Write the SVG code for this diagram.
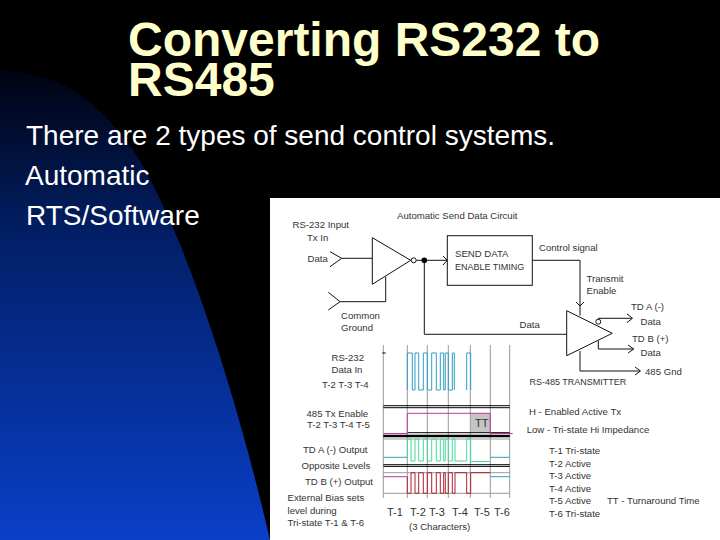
<svg xmlns="http://www.w3.org/2000/svg" width="720" height="540" viewBox="0 0 720 540">
<style>
text{font-family:"Liberation Sans",Arial,sans-serif}
.title{font-size:48px;font-weight:700;fill:#ffffcc}
.body{font-size:28px;fill:#fff}
.s{font-size:9.6px;fill:#333}
.n{font-size:9px;fill:#333}
.m{font-size:11px;fill:#333}
.w{fill:none;stroke:#111;stroke-width:1}
.grid{stroke:#999;stroke-width:1;fill:none}
.bar{stroke:#000;fill:none}
.sig{fill:none;stroke-width:1}
</style>
<defs>
<linearGradient id="bg" gradientUnits="userSpaceOnUse" x1="0" y1="70" x2="0" y2="540">
<stop offset="0" stop-color="#000310"/>
<stop offset="0.35" stop-color="#021f66"/>
<stop offset="1" stop-color="#0a3fc8"/>
</linearGradient>
</defs>
<rect width="720" height="540" fill="#000"/>
<path d="M0 70C35 72 60 80 83 97C105 113 120 133 133 150C150 175 165 210 177 237C205 305 240 410 270 540H0Z" fill="url(#bg)"/>
<g id="heading">
<text class="title" x="128" y="56">Converting RS232 to</text>
<text class="title" x="128" y="96">RS485</text>
<text class="body" x="26" y="145">There are 2 types of send control systems.</text>
<text class="body" x="25" y="185">Automatic</text>
<text class="body" x="26" y="225">RTS/Software</text>
</g>
<rect id="panel" x="270" y="198" width="450" height="342" fill="#fff"/>
<g id="connectors">
<path class="w" d="M330 251.7L341.7 258.3L330 266.7M341.7 258.3H372.3"/>
<path class="w" d="M328.3 292.3L340 301.7L328.3 310M340 301.7H385.7V276.7"/>
<path class="w" d="M416.2 260.3H447.3M443 256L447.3 260.3L443 265"/>
<path class="w" d="M532.3 260.3H580V315.7M576 302L580 306L584 302"/>
<path class="w" d="M424.3 260.3V334.3H566.7"/>
<path class="w" d="M598.3 319V318.3H631.7M627 314L632.5 318.3L627 322.5"/>
<path class="w" d="M598.3 340.7V349H633.3M628 345L633.8 349L628 353"/>
<path class="w" d="M580 351V371H640M635 367L640.5 371L635 375"/>
</g>
<g id="buffer"><path d="M372.3 237.7L410.7 260.3L372.3 284.3Z" fill="#fff" stroke="#111"/><circle cx="413.7" cy="260.3" r="2.5" fill="#fff" stroke="#111"/><circle cx="424.3" cy="260.3" r="2.8" fill="#000"/></g>
<g id="timing"><rect x="447.3" y="235.7" width="85" height="49.6" fill="#fff" stroke="#111"/><text class="s" x="455" y="256.7">SEND DATA</text><text class="n" x="455" y="270">ENABLE TIMING</text></g>
<g id="transmitter"><path d="M566.7 310.7L612.3 333.3L566.7 355.7Z" fill="#fff" stroke="#111"/><circle cx="598.3" cy="321.7" r="2.5" fill="#fff" stroke="#111"/></g>
<g id="circuit-labels">
<text class="s" x="397" y="218.5">Automatic Send Data Circuit</text>
<text class="s" x="292.5" y="228">RS-232 Input</text>
<text class="s" x="307" y="241">Tx In</text>
<text class="s" x="307.5" y="261.7">Data</text>
<text class="s" x="539" y="250.6">Control signal</text>
<text class="s" x="586.5" y="281.7">Transmit</text>
<text class="s" x="586.5" y="294">Enable</text>
<text class="s" x="631" y="310">TD A (-)</text>
<text class="s" x="640.5" y="325">Data</text>
<text class="s" x="632" y="341.7">TD B (+)</text>
<text class="s" x="640.5" y="356">Data</text>
<text class="s" x="645" y="375">485 Gnd</text>
<text class="s" x="341" y="319">Common</text>
<text class="s" x="341" y="331">Ground</text>
<text class="s" x="519.5" y="328.3">Data</text>
<text class="n" x="529.5" y="385">RS-485 TRANSMITTER</text>
</g>
<g id="timing-diagram">
<rect x="470.3" y="413.3" width="20" height="19.4" fill="#c4c4c4"/>
<path class="grid" d="M383.3 345V498M407.3 345V498M427.3 345V498M448.3 345V498M470.3 345V498M490.3 345V498M509.7 345V498M383.3 439H509.7M383.3 472.7H509.7M383.3 493.3H509.7"/>
<path class="bar" d="M383.3 405.7H509.7M383.3 407.7H509.7M407.3 432.7H509.7M383.3 464.7H509.7M383.3 466.4H509.7"/>
<path class="bar" stroke-width="2.4" d="M383.3 436H509.7"/>
<path class="sig" stroke="#000" d="M382.3 353H385.7"/>
<path class="sig" stroke="#2f9fc4" d="M407.3 390V353H412.3V390H415V353H418.7V390H423.3V353H427.3V390H431.7V353H436.3V390H440.3V353H443.7V390H445.3V353H448.3V390H452.3V353H454.3V390M466.7 390V353H470.7V390"/>
<path class="sig" stroke="#c0369a" d="M383.3 433.5H407.3V413.3H490.3V433.5H512.7"/>
<path class="sig" stroke="#2f9fc4" d="M383.3 457.3H407.3M490.3 457.3H509.7M490.3 476.7H509.7"/>
<path class="sig" stroke="#45dc9c" d="M407.3 457.3V439H411V461H415V439H418.7V461H423.3V439H427.3V461H431.7V439H436.3V461H440.3V439H443.7V461H445.3V439H448.3V461H452.3V439H455V461H466.7V439H470.7V461.5H490.3"/>
<path class="sig" stroke="#c0369a" d="M383.3 476.7H407.3"/>
<path class="sig" stroke="#b0202c" d="M407.3 476.7V493.3H411V472.7H415V493.3H418.7V472.7H423.3V493.3H427.3V472.7H431.7V493.3H436.3V472.7H440.3V493.3H443.7V472.7H445.3V493.3H448.3V472.7H452.3V493.3H455V472.7H466.7V493.3H470.7V472.7H490.3"/>
<text class="m" x="475" y="426.7">TT</text>
</g>
<g id="timing-labels">
<text class="s" x="331.5" y="360.7">RS-232</text>
<text class="s" x="331.5" y="373">Data In</text>
<text class="s" x="322" y="387.7">T-2 T-3 T-4</text>
<text class="s" x="306.5" y="416.7">485 Tx Enable</text>
<text class="s" x="307" y="428">T-2 T-3 T-4 T-5</text>
<text class="s" x="303" y="452.7">TD A (-) Output</text>
<text class="s" x="301.5" y="469">Opposite Levels</text>
<text class="s" x="305" y="485">TD B (+) Output</text>
<text class="s" x="287.5" y="500.7">External Bias sets</text>
<text class="s" x="287.5" y="514">level during</text>
<text class="s" x="287.5" y="526">Tri-state T-1 &amp; T-6</text>
<text class="m" x="387" y="516">T-1</text>
<text class="m" x="410" y="516">T-2</text>
<text class="m" x="429" y="516">T-3</text>
<text class="m" x="452" y="516">T-4</text>
<text class="m" x="474" y="516">T-5</text>
<text class="m" x="494" y="516">T-6</text>
<text class="s" x="409" y="530">(3 Characters)</text>
<text class="s" x="529" y="415">H - Enabled Active Tx</text>
<text class="s" x="526.7" y="433">Low - Tri-state Hi Impedance</text>
<text class="s" x="549" y="454">T-1 Tri-state</text>
<text class="s" x="549" y="466.5">T-2 Active</text>
<text class="s" x="549" y="479">T-3 Active</text>
<text class="s" x="549" y="491.5">T-4 Active</text>
<text class="s" x="549" y="504">T-5 Active</text>
<text class="s" x="549" y="516.5">T-6 Tri-state</text>
<text class="s" x="607" y="504">TT - Turnaround Time</text>
</g>
</svg>
